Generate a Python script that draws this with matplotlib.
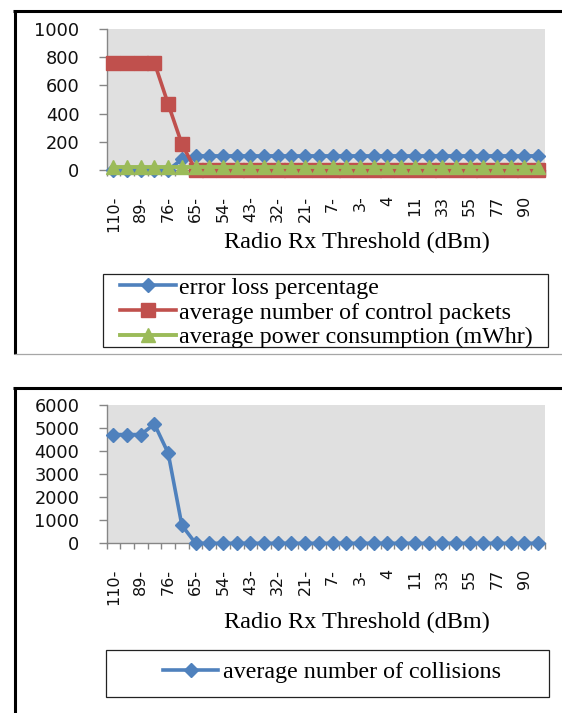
import numpy as np
import matplotlib
matplotlib.use("Agg")
import matplotlib.pyplot as plt
from matplotlib.lines import Line2D
from matplotlib.patches import Rectangle

# ---------------- data ----------------
tick_labels = ["110-", "89-", "76-", "65-", "54-", "43-", "32-", "21-",
               "7-", "3-", "4", "11", "33", "55", "77", "90"]

error_loss = [0, 0, 0, 0, 0, 75, 100, 100, 100, 100, 100, 100, 100, 100, 100, 100,
              100, 100, 100, 100, 100, 100, 100, 100, 100, 100, 100, 100, 100, 100, 100, 100]
control_packets = [760, 760, 760, 760, 468, 184, 0, 0, 0, 0, 0, 0, 0, 0, 0, 0,
                   0, 0, 0, 0, 0, 0, 0, 0, 0, 0, 0, 0, 0, 0, 0, 0]
power_consumption = [20, 20, 20, 20, 20, 20, 20, 20, 20, 20, 20, 20, 20, 20, 20, 20,
                     20, 20, 20, 20, 20, 20, 20, 20, 20, 20, 20, 20, 20, 20, 20, 20]
collisions = [4700, 4700, 4700, 5150, 3900, 780, 0, 0, 0, 0, 0, 0, 0, 0, 0, 0,
              0, 0, 0, 0, 0, 0, 0, 0, 0, 0, 0, 0, 0, 0, 0, 0]

top_yticks = [0, 200, 400, 600, 800, 1000]
bottom_yticks = [0, 1000, 2000, 3000, 4000, 5000, 6000]

legend_top = ["error loss percentage",
              "average number of control packets",
              "average power consumption (mWhr)"]
legend_bottom = ["average number of collisions"]
xlabel = "Radio Rx Threshold (dBm)"

# ---------------- figure ----------------
W, H = 562, 713
fig = plt.figure(figsize=(W / 100, H / 100), dpi=100)
fig.patch.set_facecolor("white")


def fx(px):
    return px / W


def fy(py):
    return 1 - py / H


BLUE, RED, GREEN = "#4F81BD", "#C0504D", "#9BBB59"
AXC = "#868686"
SERIF = "Liberation Serif"
SANS = "DejaVu Sans"


def setup_axis(ax, n, yticks):
    ax.set_facecolor("#E0E0E0")
    for s in ("top", "right"):
        ax.spines[s].set_visible(False)
    for s in ("left", "bottom"):
        ax.spines[s].set_color(AXC)
        ax.spines[s].set_linewidth(1.0)
    ax.set_xlim(-0.5, n - 0.5)
    ax.set_ylim(yticks[0], yticks[-1])
    ax.set_yticks(yticks)
    ax.set_yticklabels([str(v) for v in yticks], fontsize=12.8, family=SANS, color="#111111")
    ax.tick_params(axis="y", length=6, width=1, color=AXC, pad=13.5)
    # boundary tick marks
    ax.set_xticks(np.arange(-0.5, n, 1.0))
    ax.set_xticklabels([])
    ax.tick_params(axis="x", which="major", length=4, width=1, color=AXC, direction="out")
    # labels at every second category
    ax.set_xticks(np.arange(0, n, 2), minor=True)
    ax.set_xticklabels(tick_labels, minor=True, rotation=90, fontsize=11.5,
                       family=SANS, color="#111111", va="top", ha="center")
    ax.tick_params(axis="x", which="minor", length=0, pad=18.5)


# ---------------- top chart ----------------
ax1 = fig.add_axes([fx(106.5), fy(170), (545 - 106.5) / W, (170 - 29) / H])
x = np.arange(len(error_loss))
setup_axis(ax1, len(x), top_yticks)
l1, = ax1.plot(x, error_loss, color=BLUE, lw=2.6, marker="D", ms=7, clip_on=False, zorder=3)
l2, = ax1.plot(x, control_packets, color=RED, lw=2.6, marker="s", ms=9.5, clip_on=False, zorder=4)
l3, = ax1.plot(x, power_consumption, color=GREEN, lw=2.8, marker="^", ms=9.5, clip_on=False, zorder=5)

fig.text(fx(357), fy(242), xlabel, ha="center", va="center", family=SERIF, fontsize=17.5)

fig.legend([l1, l2, l3], legend_top, loc="upper left",
           bbox_to_anchor=(fx(120), fy(277)), frameon=False, borderpad=0,
           borderaxespad=0, handlelength=2.35, handletextpad=0.12,
           labelspacing=0.12, numpoints=1,
           prop={"family": SERIF, "size": 17.3})
fig.add_artist(Rectangle((fx(103), fy(346.7)), (548 - 103) / W, (346.7 - 274) / H,
                         transform=fig.transFigure, fill=False, ec="#222222", lw=0.9))

# ---------------- bottom chart ----------------
ax2 = fig.add_axes([fx(106.5), fy(543.3), (545 - 106.5) / W, (543.3 - 404.5) / H])
x2 = np.arange(len(collisions))
setup_axis(ax2, len(x2), bottom_yticks)
l4, = ax2.plot(x2, collisions, color=BLUE, lw=2.6, marker="D", ms=7, clip_on=False, zorder=3)

fig.text(fx(357), fy(622), xlabel, ha="center", va="center", family=SERIF, fontsize=17.5)

fig.legend([l4], legend_bottom, loc="center left",
           bbox_to_anchor=(fx(163), fy(672)), frameon=False, borderpad=0,
           borderaxespad=0, handlelength=2.3, handletextpad=0.2, numpoints=1,
           prop={"family": SERIF, "size": 17.3})
fig.add_artist(Rectangle((fx(106), fy(697)), (549 - 106) / W, (697 - 650) / H,
                         transform=fig.transFigure, fill=False, ec="#222222", lw=0.9))

# ---------------- outer frames ----------------
def fline(xs, ys, color="black", lw=2.2):
    fig.add_artist(Line2D([fx(v) for v in xs], [fy(v) for v in ys],
                          transform=fig.transFigure, color=color, lw=lw,
                          solid_capstyle="butt"))


fline([13, 562], [10.5, 10.5])
fline([14.5, 14.5], [9.5, 354])
fline([14.5, 562], [354, 354], color="#A6A6A6", lw=0.9)
fline([13, 562], [388, 388])
fline([14.5, 14.5], [387, 713])

fig.savefig("out.png", dpi=100)
